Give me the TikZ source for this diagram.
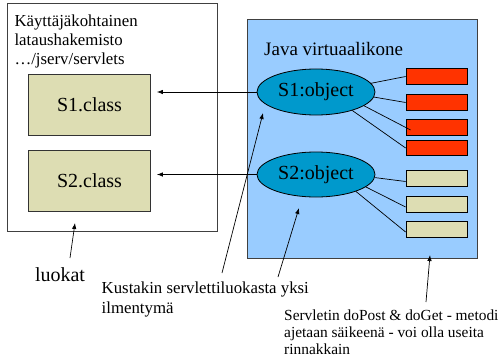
\documentclass[tikz,border=0pt]{standalone}
\usepackage{fontspec}
\setmainfont{Liberation Serif}
\usepackage{tikz}
\usetikzlibrary{arrows.meta, shapes.geometric}
\usepackage{tkz-euclide}

\definecolor{jvmblue}{RGB}{153,204,255}
\definecolor{objblue}{RGB}{0,153,204}
\definecolor{classtan}{RGB}{221,221,179}
\definecolor{threadred}{RGB}{255,51,0}

\tikzset{
    frame/.style={draw=black!75, line width=0.8pt, inner sep=0pt},
    classbox/.style={draw=black!80, line width=0.8pt, fill=classtan, minimum width=122pt, minimum height=61pt, font=\fontsize{20}{24}\selectfont},
    objnode/.style={ellipse, draw=black, line width=0.8pt, fill=objblue, minimum width=118pt, minimum height=46pt, inner sep=0pt, font=\fontsize{20}{24}\selectfont},
    redthread/.style={draw=black, line width=0.8pt, fill=threadred, minimum width=61pt, minimum height=15.5pt, inner sep=0pt},
    tanthread/.style={redthread, fill=classtan},
    pointer/.style={-{Latex[length=6pt,width=4.5pt]}, line width=0.7pt},
    note/.style={align=left, inner sep=0pt, anchor=base west}
}

\begin{document}
\begin{tikzpicture}[x=1pt, y=-1pt]
                \useasboundingbox (0,0) rectangle (498,361);
                \node (folder) [frame, minimum width=210pt, minimum height=228pt] at (112,117) {};
                \node (jvm) [frame, fill=jvmblue, minimum width=230pt, minimum height=239pt] at (362,138.5) {};
                \node (dirname) [note, font=\fontsize{16.8}{19.5}\selectfont] at (14.3,65) {Käyttäjäkohtainen\\lataushakemisto\\…/jserv/servlets};
                \node (jvmname) [note, font=\fontsize{19}{23}\selectfont] at (264,56) {Java virtuaalikone};
                \node (s1class) [classbox] at (89.5,105) {S1.class};
                \node (s2class) [classbox] at (89.5,180.5) {S2.class};
                \node (s1obj) [objnode] at (316,92) {S1:object};
                \node (s2obj) [objnode, minimum height=45pt] at (316,174.5) {S2:object};
                \node (r1) [redthread] at (436.5,76.5) {};
                \node (r2) [redthread] at (436.5,102.5) {};
                \node (r3) [redthread] at (436.5,127.5) {};
                \node (r4) [redthread] at (436.5,148) {};
                \node (r5) [tanthread] at (436.5,178.5) {};
                \node (r6) [tanthread] at (436.5,204.5) {};
                \node (r7) [tanthread] at (436.5,229.5) {};
                \draw[line width=0.7pt] (s1obj.9) -- (r1.west) (s1obj.-5) -- (r2.west)
                    (s1obj.-16) -- ([shift={(5pt,-2.5pt)}]r3.west) (s1obj.-27) -- (r4.west);
                \draw[line width=0.7pt] (s2obj.-3) -- ([yshift=-3pt]r5.west) (s2obj.-14) -- ([yshift=-2.5pt]r6.west)
                    (s2obj.-23) -- ([yshift=-2.5pt]r7.west);
                \draw[pointer, shorten >=6pt] (s1obj.west) -- (s1class.east |- s1obj.west);
                \draw[pointer, shorten >=6pt] (s2obj.west) -- (s2class.east |- s2obj.west);
                \node (luokat) [anchor=base, inner sep=0pt, font=\fontsize{20}{24}\selectfont] at (60,281) {luokat};
                \node (instance) [note, font=\fontsize{16.8}{20}\selectfont] at (101.5,313.3) {Kustakin servlettiluokasta yksi\\ilmentymä};
                \node (threads) [note, font=\fontsize{15.4}{16.7}\selectfont] at (284,354) {Servletin doPost \& doGet - metodi\\ajetaan säikeenä - voi olla useita\\rinnakkain};
                \tkzDefPoints{70/258/L, 222/273/K_1, 278/277/K_2, 426/302/T}
                \tkzDefPoints{75/223/L', 263/113/K_1', 299/208/K_2', 430/255/T'}
                \draw[pointer] (L) -- (L');
                \draw[pointer] (K_1) -- (K_1');
                \draw[pointer] (K_2) -- (K_2');
                \draw[pointer] (T) -- (T');
            \end{tikzpicture}
\end{document}
